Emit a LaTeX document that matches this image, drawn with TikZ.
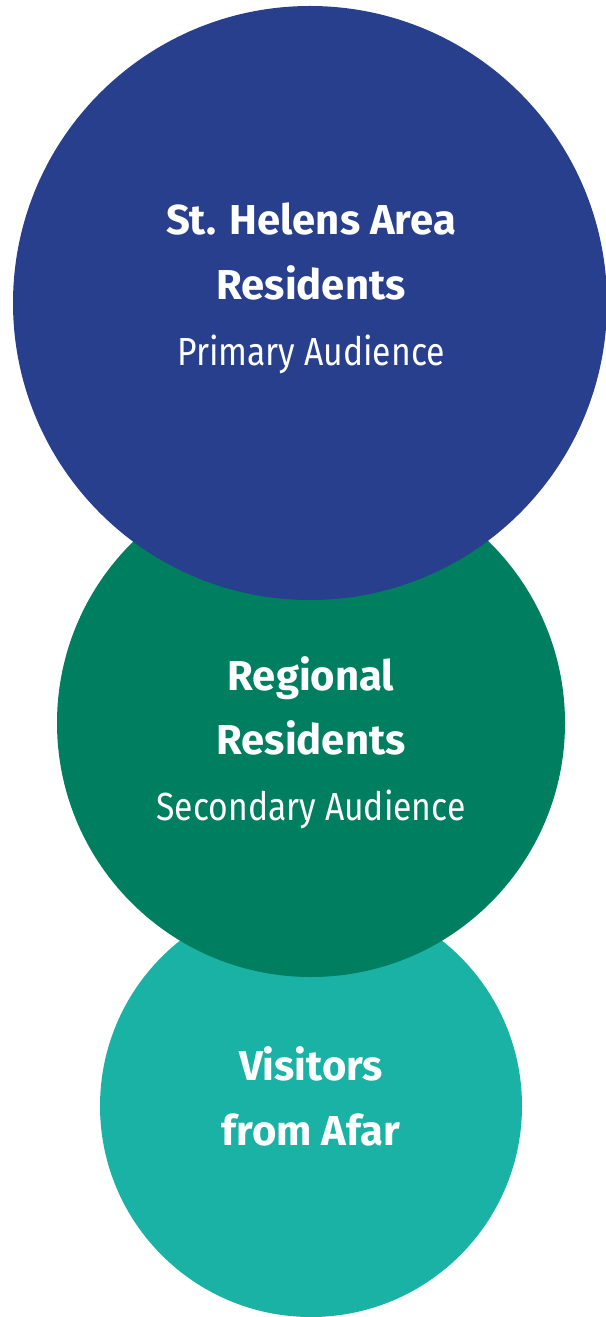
\documentclass[tikz,border=0pt]{standalone}
\usepackage{fontspec}
\setmainfont{Fira Sans}
\newfontfamily\condfont[FakeStretch=0.86]{Fira Sans}
\usetikzlibrary{positioning}
\definecolor{primblue}{RGB}{39,63,141}
\definecolor{secgreen}{RGB}{0,126,96}
\definecolor{visteal}{RGB}{27,178,166}
\tikzset{
  audience/.style={circle,inner sep=0pt,draw=none},
  headline/.style={anchor=base,text=white,font=\fontsize{23.8}{24}\selectfont\bfseries},
  subline/.style={anchor=base,text=white,font=\condfont\fontsize{22.3}{22}\selectfont}
}
\begin{document}
\begin{tikzpicture}[x=0.02cm,y=-0.02cm]
\useasboundingbox (0,0) rectangle (605,1317);
%\draw[help lines] (0,0) grid[step=100] (605,1317);
% circles, lowest first
\node[audience,fill=visteal,minimum size=422*0.02cm] (visitors) at (311,1106) {};
\node[audience,fill=secgreen,minimum size=508*0.02cm] (regional) at (311,723) {};
\node[audience,fill=primblue,minimum size=594*0.02cm] (primary) at (310,303) {};
%
\node[headline] (sthelens) at (311,235) {St. Helens Area};
\node[headline] (primres) at (311,300) {Residents};
\node[subline] (primaud) at (311,366) {Primary Audience};
%
\node[headline] (regname) at (311,690) {Regional};
\node[headline] (regres) at (311,754) {Residents};
\node[subline] (secaud) at (311,820) {Secondary Audience};
%
\node[headline] (visname) at (311,1080) {Visitors};
\node[headline] (visafar) at (311,1145) {from Afar};
\end{tikzpicture}
\end{document}
